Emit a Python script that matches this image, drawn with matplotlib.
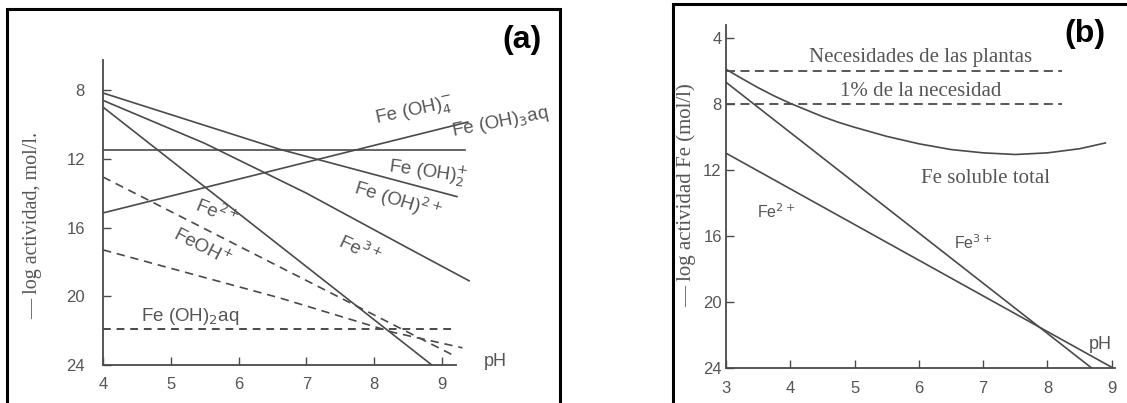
import matplotlib
matplotlib.use("Agg")
from matplotlib import pyplot as plt
from matplotlib.patches import Rectangle

# ---- panel (a) data: -log activity vs pH ----
ph_oh4 = [4, 9.38]
y_oh4 = [15.15, 9.86]
ph_oh3aq = [4, 9.34]
y_oh3aq = [11.5, 11.5]
ph_oh2p = [4, 6.61, 9.22]
y_oh2p = [8.17, 11.45, 14.2]
ph_oh2plus = [4, 5.5, 7, 8.5, 9.4]
y_oh2plus = [8.6, 11.1, 14.0, 17.2, 19.1]
ph_fe3 = [4, 8.85]
y_fe3 = [8.99, 24.0]
ph_fe2 = [4, 9.15]
y_fe2 = [13.06, 23.4]
ph_feoh = [4, 6.61, 8.28, 9.3]
y_feoh = [17.3, 20.1, 22.1, 23.0]
ph_oh2aq = [4, 9.2]
y_oh2aq = [21.9, 21.9]
xticks_a = [4, 5, 6, 7, 8, 9]
yticks_a = [8, 12, 16, 20, 24]

# ---- panel (b) data ----
ph_total = [3, 3.25, 3.5, 3.75, 4, 4.25, 4.5, 4.75, 5, 5.5, 6, 6.5, 7, 7.5, 8, 8.5, 8.9]
y_total = [5.88, 6.45, 7.0, 7.5, 7.95, 8.35, 8.75, 9.1, 9.4, 9.95, 10.4, 10.75, 10.95,
           11.05, 10.95, 10.7, 10.35]
ph_fe3b = [3, 8.72]
y_fe3b = [6.67, 24.1]
ph_fe2b = [3, 9.02]
y_fe2b = [10.97, 24.0]
ph_need = [3, 8.23]
y_need = [6, 6]
y_need1 = [8, 8]
xticks_b = [3, 4, 5, 6, 7, 8, 9]
yticks_b = [4, 8, 12, 16, 20, 24]

INK = "#4a4a4a"
TXT = "#555555"
SERIF = "Liberation Serif"
SANS = ["Liberation Sans", "DejaVu Sans"]
NARROW = ["Liberation Sans Narrow", "Liberation Sans", "DejaVu Sans"]

fig = plt.figure(figsize=(11.27, 4.03), dpi=100)

# black frames round the two panels
fig.patches.append(Rectangle((7 / 1127, -0.05), (560 - 7) / 1127, (403 - 9) / 403 + 0.05,
                             transform=fig.transFigure, fill=False, lw=2.2, ec="black"))
fig.patches.append(Rectangle((673 / 1127, -0.05), 0.5, (403 - 4) / 403 + 0.05,
                             transform=fig.transFigure, fill=False, lw=2.2, ec="black"))

# ================= (a) =================
ax = fig.add_axes([0.0914, 0.0943, 0.3369, 0.7568])
ax.set_xlim(4, 9.6)
ax.set_ylim(24, 6.25)
lw = 1.2
ax.plot(ph_oh4, y_oh4, color=INK, lw=lw)
ax.plot(ph_oh3aq, y_oh3aq, color=INK, lw=lw)
ax.plot(ph_oh2p, y_oh2p, color=INK, lw=lw)
ax.plot(ph_oh2plus, y_oh2plus, color=INK, lw=lw)
ax.plot(ph_fe3, y_fe3, color=INK, lw=lw)
ax.plot(ph_fe2, y_fe2, color=INK, lw=lw, ls=(0, (5, 3.5)))
ax.plot(ph_feoh, y_feoh, color=INK, lw=lw, ls=(0, (5, 3.5)))
ax.plot(ph_oh2aq, y_oh2aq, color=INK, lw=1.4, ls=(0, (4, 3)))

for s in ["top", "right"]:
    ax.spines[s].set_visible(False)
ax.spines["left"].set_color(INK)
ax.spines["bottom"].set_color(INK)
ax.spines["left"].set_linewidth(1.3)
ax.spines["bottom"].set_linewidth(1.3)
ax.spines["bottom"].set_bounds(4, 9.2)
ax.set_xticks(xticks_a)
ax.set_yticks(yticks_a)
ax.tick_params(direction="in", colors=INK, labelcolor=TXT, labelsize=12, length=6, width=1)
ax.tick_params(axis="x", pad=9)
ax.tick_params(axis="y", pad=13)
for t in ax.get_xticklabels() + ax.get_yticklabels():
    t.set_family(NARROW)
ax.patch.set_alpha(0)

lab = dict(color=TXT, fontsize=13.5, family=SANS, ha="center", va="center",
           rotation_mode="anchor")
ax.text(8.60, 9.28, r"Fe (OH)$_4^{-}$", rotation=12, **lab)
ax.text(9.86, 9.86, r"Fe (OH)$_3$aq", rotation=11, **lab)
ax.text(8.79, 12.77, r"Fe (OH)$_2^{+}$", rotation=-8, **lab)
ax.text(8.35, 14.4, r"Fe (OH)$^{2+}$", rotation=-17, **lab)
ax.text(7.79, 17.3, r"Fe$^{3+}$", rotation=-25, **lab)
ax.text(5.68, 15.1, r"Fe$^{2+}$", rotation=-22, **lab)
ax.text(5.46, 17.13, r"FeOH$^{+}$", rotation=-27, **lab)
ax.text(5.28, 21.2, r"Fe (OH)$_2$aq", **lab)
ax.text(9.78, 23.8, "pH", color=TXT, fontsize=13, family=SANS, ha="center", va="center")

fig.text(33 / 1127, 1 - 225 / 403, "— log actividad, mol/l.", rotation=90, family=SERIF,
         fontsize=14.5, color=TXT, ha="center", va="center")
fig.text(522 / 1127, 1 - 40 / 403, "(a)", fontsize=23, fontweight="bold", family=SANS,
         ha="center", va="center")

# ================= (b) =================
bx = fig.add_axes([0.6442, 0.0868, 0.3537, 0.851])
bx.set_xlim(3, 9.2)
bx.set_ylim(24, 3.2)
bx.plot(ph_need, y_need, color=INK, lw=1.3, ls=(0, (5, 3)))
bx.plot(ph_need, y_need1, color=INK, lw=1.3, ls=(0, (5, 3)))
bx.plot(ph_total, y_total, color=INK, lw=lw)
bx.plot(ph_fe3b, y_fe3b, color=INK, lw=lw)
bx.plot(ph_fe2b, y_fe2b, color=INK, lw=lw)

for s in ["top", "right"]:
    bx.spines[s].set_visible(False)
bx.spines["left"].set_color(INK)
bx.spines["bottom"].set_color(INK)
bx.spines["left"].set_linewidth(1.3)
bx.spines["bottom"].set_linewidth(1.3)
bx.spines["bottom"].set_bounds(3, 9.05)
bx.set_xticks(xticks_b)
bx.set_yticks(yticks_b)
bx.tick_params(direction="in", colors=INK, labelcolor=TXT, labelsize=12, length=6, width=1)
bx.tick_params(axis="x", pad=9)
bx.tick_params(axis="y", pad=3)
for t in bx.get_xticklabels() + bx.get_yticklabels():
    t.set_family(NARROW)
bx.patch.set_alpha(0)

serif = dict(color=TXT, fontsize=15, family=SERIF, ha="center", va="center")
bx.text(6.03, 5.15, "Necesidades de las plantas", **serif)
bx.text(6.03, 7.21, "1% de la necesidad", **serif)
bx.text(7.03, 12.48, "Fe soluble total", **serif)
bx.text(6.84, 16.4, r"Fe$^{3+}$", color=TXT, fontsize=11.5, family=SANS, ha="center", va="center")
bx.text(3.78, 14.5, r"Fe$^{2+}$", color=TXT, fontsize=11.5, family=SANS, ha="center", va="center")
bx.text(8.82, 22.6, "pH", color=TXT, fontsize=13, family=SANS, ha="center", va="center")

fig.text(686 / 1127, 1 - 195 / 403, "— log actividad Fe (mol/l)", rotation=90, family=SERIF,
         fontsize=15, color=TXT, ha="center", va="center")
fig.text(1085 / 1127, 1 - 34 / 403, "(b)", fontsize=23, fontweight="bold", family=SANS,
         ha="center", va="center")

fig.savefig("out.png", dpi=100)
